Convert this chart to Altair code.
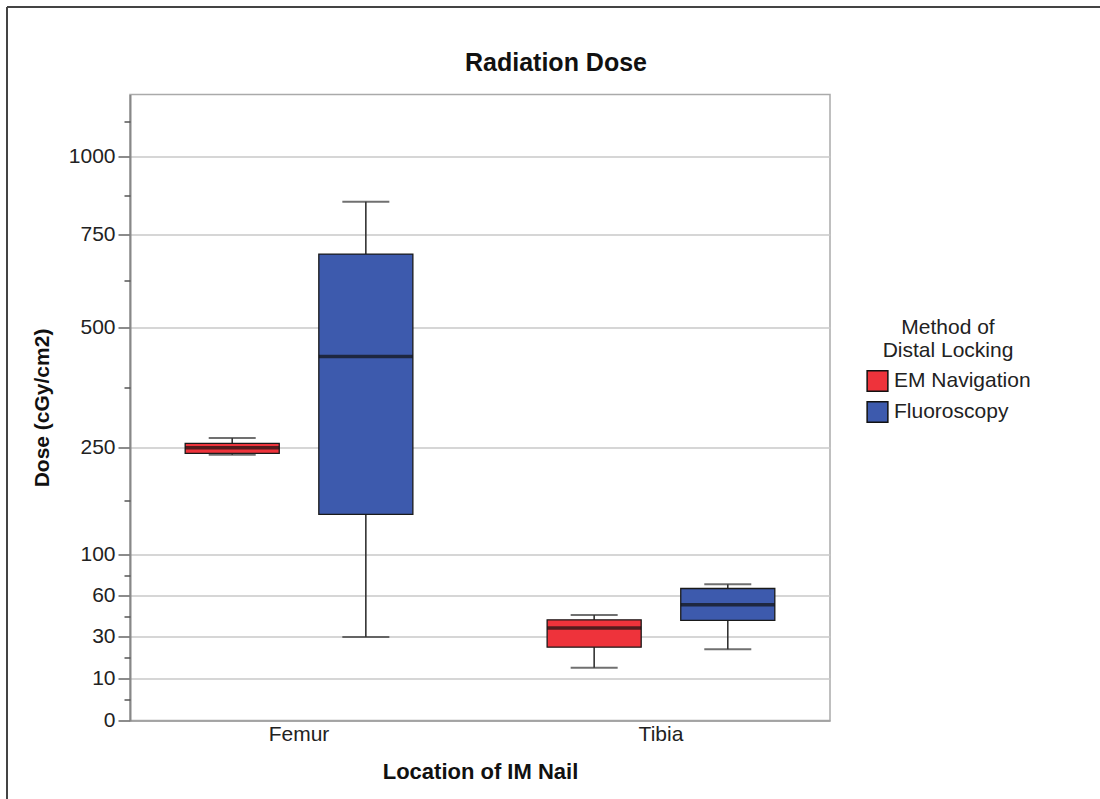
import altair as alt
import pandas as pd

# ---- data ----
locations = ["Femur", "Femur", "Tibia", "Tibia"]
methods = ["EM Navigation", "Fluoroscopy", "EM Navigation", "Fluoroscopy"]
whisker_low = [240, 30, 15, 24]
q1 = [242, 156, 25, 42]
median = [250, 439, 36.5, 53.5]
q3 = [259, 696, 42.5, 67]
whisker_high = [270, 854, 46, 71]

major_ticks = [0, 10, 30, 60, 100, 250, 500, 750, 1000]
minor_ticks = [5, 20, 45, 80, 175, 375, 625, 875, 1140]
method_order = ["EM Navigation", "Fluoroscopy"]
method_colors = ["#EE333B", "#3D5AAD"]

df = pd.DataFrame({
    "Location": locations, "Method": methods,
    "low": whisker_low, "q1": q1, "median": median, "q3": q3, "high": whisker_high,
})

FONT = "Liberation Sans"
W, H = 700, 626

# non-uniform (piecewise) dose axis, as in the original chart
yscale = alt.Scale(
    type="linear",
    domain=[0, 10, 30, 60, 100, 250, 500, 750, 1000, 1250],
    range=[626.2, 583.5, 542.4, 501.3, 459.7, 353.2, 232.6, 139.5, 62.2, 0],
    zero=False, nice=False,
)
xscale = alt.Scale(paddingInner=0.066, paddingOuter=0)
xoscale = alt.Scale(domain=method_order, paddingInner=0.296, paddingOuter=0.413)

xaxis = alt.Axis(
    title="Location of IM Nail", titleFontSize=22, titleFontWeight="bold",
    titleColor="#111", titleBaseline="alphabetic", titleY=57.5,
    labelFontSize=21, labelColor="#222", labelAngle=0, labelPadding=3,
    ticks=False, tickSize=0, domainColor="#999", domainWidth=1.5,
)
X = alt.X("Location:N", scale=xscale, axis=xaxis)
XO = alt.XOffset("Method:N", scale=xoscale)

major_axis = alt.Axis(
    values=major_ticks, format="d", title="Dose (cGy/cm2)", titleFontSize=21,
    titleFontWeight="bold", titleColor="#111", titleAngle=270,
    titleX=-88, titleY=313, titleAlign="center", titleBaseline="middle",
    labelFontSize=21, labelColor="#222", labelPadding=3,
    tickSize=12, tickColor="#666", tickWidth=1.5,
    grid=True, gridColor="#c8c8c8", gridWidth=1.5,
    domainColor="#888", domainWidth=2, orient="left",
)
minor_axis = alt.Axis(
    values=minor_ticks, labels=False, title=None, grid=False,
    tickSize=6, tickColor="#555", tickWidth=1.5, domain=False, orient="left",
)

base = alt.Chart(df)

whiskers = base.mark_rule(color="#333", strokeWidth=1.6).encode(
    x=X, xOffset=XO,
    y=alt.Y("low:Q", scale=yscale, axis=major_axis),
    y2="high:Q",
)
boxes = base.mark_bar(stroke="#1a1a1a", strokeWidth=1.3).encode(
    x=X, xOffset=XO,
    y=alt.Y("q1:Q", scale=yscale, axis=minor_axis),
    y2="q3:Q",
    color=alt.Color(
        "Method:N",
        scale=alt.Scale(domain=method_order, range=method_colors),
        legend=alt.Legend(
            title=["Method of", "Distal Locking"], orient="none",
            legendX=736, legendY=222, padding=0,
            titleFontSize=21, titleFontWeight="normal", titleColor="#222",
            titleAnchor="middle", titleAlign="center", titleLineHeight=23,
            titlePadding=9, labelFontSize=21, labelColor="#222",
            labelOffset=5, rowPadding=4,
            symbolType="square", symbolSize=430, symbolStrokeColor="#111",
            symbolStrokeWidth=1.5, symbolOpacity=1,
        ),
    ),
)
medians = base.mark_tick(color="#111", thickness=3.5, size=94, orient="horizontal").encode(
    x=X, xOffset=XO, y=alt.Y("median:Q", scale=yscale, axis=None),
)
caps_low = base.mark_tick(color="#333", thickness=2, size=47, orient="horizontal").encode(
    x=X, xOffset=XO, y=alt.Y("low:Q", scale=yscale, axis=None),
)
caps_high = base.mark_tick(color="#333", thickness=2, size=47, orient="horizontal").encode(
    x=X, xOffset=XO, y=alt.Y("high:Q", scale=yscale, axis=None),
)

# decorative outer frame (top and left edges of the figure)
frame_df = pd.DataFrame({"k": [0]})
frame_top = alt.Chart(frame_df).mark_rule(color="#444", strokeWidth=2).encode(
    x=alt.value(-123), x2=alt.value(975), y=alt.value(-87.5)
)
frame_left = alt.Chart(frame_df).mark_rule(color="#444", strokeWidth=2).encode(
    x=alt.value(-123), y=alt.value(-87.5), y2=alt.value(710)
)

chart = (
    alt.layer(whiskers, boxes, medians, caps_low, caps_high, frame_top, frame_left)
    .resolve_axis(y="independent")
    .properties(
        width=W, height=H,
        title=alt.TitleParams(
            "Radiation Dose", fontSize=25, fontWeight="bold", color="#111",
            anchor="middle", baseline="bottom", offset=16, dy=111, dx=76,
            font=FONT,
        ),
        autosize=alt.AutoSizeParams(type="none"),
        padding={"left": 130, "top": 94.5, "right": 270, "bottom": 78.5},
    )
    .configure(font=FONT, background="white")
    .configure_view(stroke="#aaaaaa", strokeWidth=1.5)
)

chart.save("out.html", embed_options={"renderer": "svg", "actions": False})
